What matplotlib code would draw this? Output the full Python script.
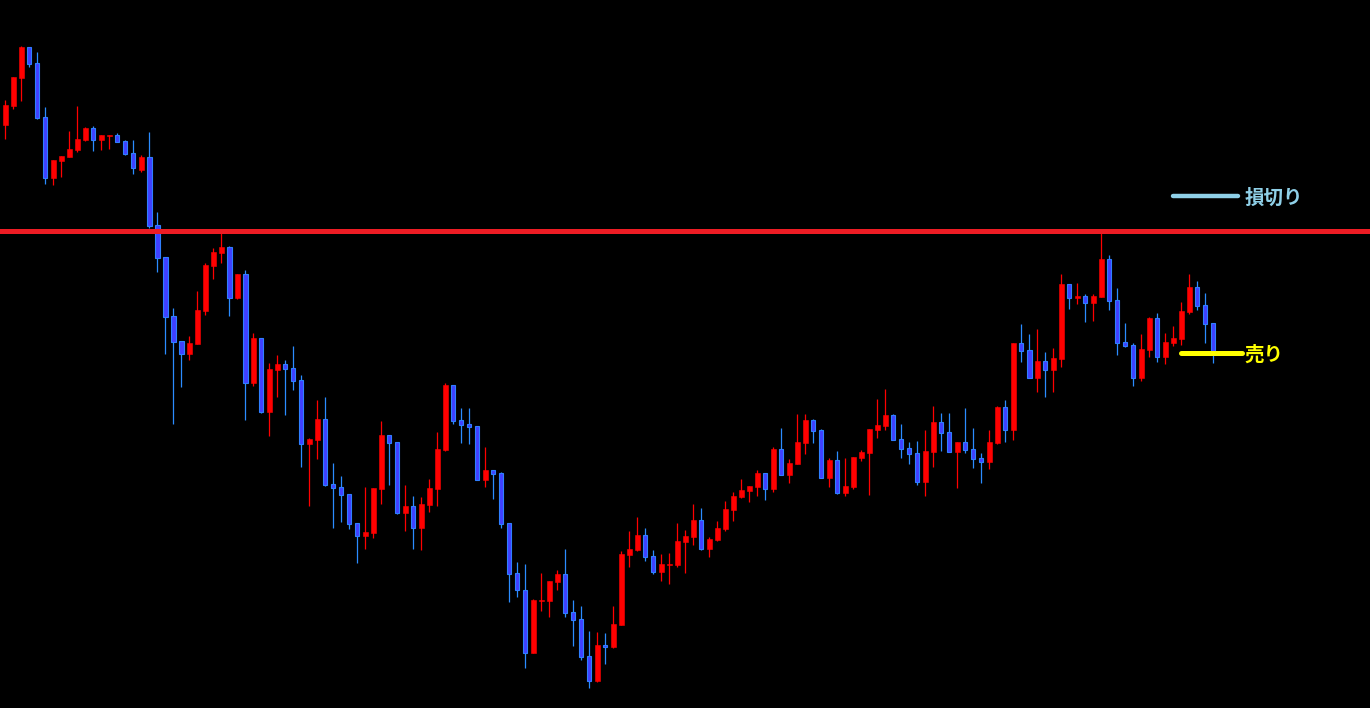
import matplotlib
matplotlib.use("Agg")
import matplotlib.pyplot as plt
import numpy as np

# OHLC values (arbitrary price units)
opens = [583,602,630,661,645,591,530,547,551,558,568,580,568,572,573,567,555,538,551,483,
         451,392,367,354,364,397,442,455,461,410,434,325,370,296,338,344,340,328,264,268,
         289,224,221,214,185,172,175,219,273,266,195,202,180,203,219,258,323,288,284,282,
         228,238,235,185,135,118,55,107,107,126,134,96,89,52,27,63,61,83,153,158,
         173,152,136,143,143,166,171,188,159,168,179,198,211,217,221,235,219,259,233,244,
         265,288,278,230,248,215,221,250,255,278,282,293,269,260,255,226,256,286,276,256,
         266,259,250,246,265,301,278,365,358,330,347,338,349,424,410,412,405,411,449,408,
         366,363,330,358,390,351,365,369,396,421,403,385]
highs = [608,631,662,661,656,601,548,552,577,602,581,582,573,573,575,568,568,553,576,496,
         451,400,367,372,417,445,460,476,462,434,438,375,370,345,353,348,362,333,270,308,
         311,245,232,214,185,221,220,287,273,266,223,212,211,229,276,325,323,300,300,282,
         261,238,236,185,146,144,109,135,127,138,159,108,102,77,76,75,102,157,177,191,
         180,158,154,155,185,178,204,200,171,187,207,216,229,222,238,235,261,280,249,294,
         294,289,279,250,257,250,251,258,279,309,319,294,284,266,267,278,302,295,295,266,
         300,280,255,278,302,308,365,384,374,379,356,360,434,424,425,414,414,475,453,420,
         385,365,374,391,395,375,382,406,434,427,415,385]
lows  = [569,599,607,641,589,524,523,531,551,556,567,557,558,559,566,553,534,536,480,436,
         354,284,321,348,364,393,429,445,392,409,288,322,295,272,311,293,318,241,202,249,
         222,180,186,179,145,159,170,204,223,194,177,159,158,196,202,257,284,265,264,228,
         221,209,180,106,111,40,55,97,91,118,91,62,48,20,26,44,60,83,141,157,
         147,134,127,124,141,135,163,158,151,167,177,187,210,206,212,208,216,233,225,244,
         254,265,230,221,214,212,219,247,213,270,278,268,250,244,223,212,241,257,256,220,
         255,240,225,239,264,266,268,346,330,316,311,316,341,399,404,386,387,411,398,353,
         361,322,327,351,346,344,362,363,394,398,365,345]
closes = [603,631,661,644,590,530,548,552,559,569,580,568,573,573,566,554,540,551,482,450,
          391,366,354,365,398,443,456,461,410,434,325,370,296,339,344,339,327,264,269,289,
          223,220,213,184,172,176,220,273,265,195,202,180,204,220,259,323,287,283,281,228,
          238,234,184,134,118,55,108,108,127,134,95,88,51,27,63,61,84,154,159,173,
          151,136,144,144,167,172,188,159,169,180,199,212,218,222,235,219,259,233,245,266,
          288,277,230,248,215,222,251,256,279,283,293,268,259,254,226,257,286,275,256,266,
          258,249,246,266,301,278,365,357,330,347,338,350,424,410,412,405,412,449,407,365,
          362,330,359,390,351,366,370,397,421,402,384,354]

resistance = 477.5          # red horizontal line
stop_level = 512            # 損切り marker
sell_level = 355            # 売り marker
stop_label = "損切り"
sell_label = "売り"

RED = "#ff0000"
BLUE_FILL = "#4040ff"
BLUE_EDGE = "#2f7fff"
BLUE_WICK = "#2b8cff"
LINE_RED = "#ed1c24"
SKY = "#8fd0e8"
YELLOW = "#ffff00"

fig = plt.figure(figsize=(13.70, 7.08), dpi=100, facecolor="black")
ax = fig.add_axes([0, 0, 1, 1])
ax.set_facecolor("black")

o = np.array(opens, float); h = np.array(highs, float)
l = np.array(lows, float); c = np.array(closes, float)
x = np.arange(len(o))
up = c >= o

# wicks
ax.vlines(x[up], l[up], h[up], color=RED, linewidth=0.9, zorder=1)
ax.vlines(x[~up], l[~up], h[~up], color=BLUE_WICK, linewidth=0.9, zorder=1)

# bodies
bot = np.minimum(o, c)
hgt = np.maximum(np.abs(c - o), 0.8)
ax.bar(x[up], hgt[up], bottom=bot[up], width=0.6, color=RED,
       edgecolor=RED, linewidth=0.4, zorder=2)
ax.bar(x[~up], hgt[~up], bottom=bot[~up], width=0.55, color=BLUE_FILL,
       edgecolor=BLUE_EDGE, linewidth=0.8, zorder=2)

# resistance line
ax.axhline(resistance, color=LINE_RED, linewidth=3.6, zorder=3)

# markers
ax.plot([146.0, 154.1], [stop_level, stop_level], color=SKY, linewidth=3.2,
        solid_capstyle="round", zorder=4)
ax.text(154.9, stop_level - 2, stop_label, color=SKY, fontsize=14, fontweight="bold",
        family=["Noto Sans CJK JP", "DejaVu Sans"], va="center", ha="left", zorder=4)
ax.plot([147.0, 154.6], [sell_level, sell_level], color=YELLOW, linewidth=3.6,
        solid_capstyle="round", zorder=4)
ax.text(154.9, sell_level - 2, sell_label, color=YELLOW, fontsize=14, fontweight="bold",
        family=["Noto Sans CJK JP", "DejaVu Sans"], va="center", ha="left", zorder=4)

ax.set_xlim(-0.6625, -0.6625 + 1370 / 8)
ax.set_ylim(0, 708)
ax.axis("off")

fig.savefig("out.png", dpi=100, facecolor="black")
